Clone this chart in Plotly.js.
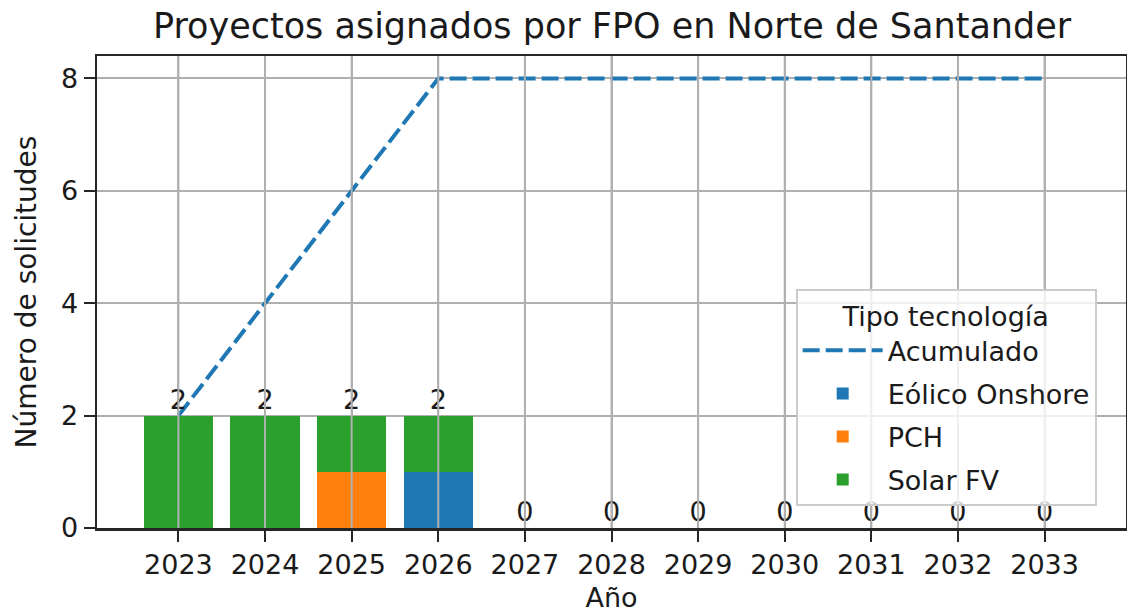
<!DOCTYPE html>
<html>
<head>
<meta charset="utf-8">
<script src="https://cdn.plot.ly/plotly-3.0.1.min.js"></script>
<style>html,body{margin:0;padding:0;background:#fff;}#chart{width:1127px;height:613px;}</style>
</head>
<body>
<div id="chart"></div>
<script>
const years = [2023, 2024, 2025, 2026, 2027, 2028, 2029, 2030, 2031, 2032, 2033];
const eolicoOnshore = [0, 0, 0, 1, 0, 0, 0, 0, 0, 0, 0];
const pch = [0, 0, 1, 0, 0, 0, 0, 0, 0, 0, 0];
const solarFV = [2, 2, 1, 1, 0, 0, 0, 0, 0, 0, 0];
const acumulado = [2, 4, 6, 8, 8, 8, 8, 8, 8, 8, 8];
const yTicks = [0, 2, 4, 6, 8];

const totals = years.map((_, i) => eolicoOnshore[i] + pch[i] + solarFV[i]);
const FONT = 'DejaVu Sans, sans-serif';

const traces = [
  {type: 'bar', x: years, y: eolicoOnshore, name: 'Eólico Onshore', marker: {color: '#1f77b4'}, width: 0.8, legendrank: 2, legendgroup: 'g2'},
  {type: 'bar', x: years, y: pch, name: 'PCH', marker: {color: '#ff7f0e'}, width: 0.8, legendrank: 3, legendgroup: 'g3'},
  {type: 'bar', x: years, y: solarFV, name: 'Solar FV', marker: {color: '#2ca02c'}, width: 0.8, legendrank: 4, legendgroup: 'g4'},
  {type: 'scatter', mode: 'lines', x: years, y: acumulado, name: 'Acumulado',
   line: {color: '#1f77b4', width: 4, dash: '17px,6px'}, legendrank: 1, legendgroup: 'g1'},
  {type: 'scatter', mode: 'text', x: years, y: totals, text: totals.map(String),
   textposition: 'top center', textfont: {family: FONT, size: 27, color: '#1a1a1a'},
   showlegend: false, hoverinfo: 'skip', cliponaxis: false}
];

const gridShapes = years.map(yr => ({
  type: 'line', xref: 'x', yref: 'paper', x0: yr, x1: yr, y0: 0, y1: 1,
  line: {color: '#b0b0b0', width: 2}, layer: 'above'
}));

const layout = {
  width: 1127, height: 613,
  margin: {l: 97, r: 1, t: 56, b: 85},
  paper_bgcolor: '#ffffff', plot_bgcolor: '#ffffff',
  font: {family: FONT, size: 27, color: '#1a1a1a'},
  barmode: 'stack',
  title: {text: 'Proyectos asignados por FPO en Norte de Santander', x: 0.5431, xanchor: 'center',
          y: 0.958, yanchor: 'middle', font: {family: FONT, size: 35, color: '#1a1a1a'}},
  xaxis: {
    range: [2022.06, 2033.94], tickmode: 'array', tickvals: years, ticktext: years.map(String),
    showgrid: true, gridcolor: '#b0b0b0', gridwidth: 2,
    showline: true, linecolor: '#262626', linewidth: 2.5, mirror: true,
    ticks: 'outside', ticklen: 11, tickwidth: 2, tickcolor: '#262626',
    tickfont: {family: FONT, size: 27, color: '#1a1a1a'}, zeroline: false,
    title: {text: 'Año', font: {family: FONT, size: 27, color: '#1a1a1a'}, standoff: 14}
  },
  yaxis: {
    range: [0, 8.4], tickmode: 'array', tickvals: yTicks, ticktext: yTicks.map(String),
    showgrid: true, gridcolor: '#b0b0b0', gridwidth: 2,
    showline: true, linecolor: '#262626', linewidth: 2.5, mirror: true,
    ticks: 'outside', ticklen: 11, tickwidth: 2, tickcolor: '#262626',
    tickfont: {family: FONT, size: 27, color: '#1a1a1a'}, zeroline: false,
    title: {text: 'Número de solicitudes', font: {family: FONT, size: 28, color: '#1a1a1a'}, standoff: 16}
  },
  legend: {
    x: 0.679, y: 0.506, xanchor: 'left', yanchor: 'top',
    bgcolor: 'rgba(255,255,255,0.8)', bordercolor: '#cccccc', borderwidth: 2,
    font: {family: FONT, size: 27, color: '#1a1a1a'},
    title: {text: 'Tipo tecnología', side: 'top center', font: {family: FONT, size: 27, color: '#1a1a1a'}},
    traceorder: 'grouped', tracegroupgap: 5, itemwidth: 80
  },
  shapes: gridShapes,
  showlegend: true
};

Plotly.newPlot('chart', traces, layout, {displayModeBar: false, staticPlot: true});
</script>
</body>
</html>
